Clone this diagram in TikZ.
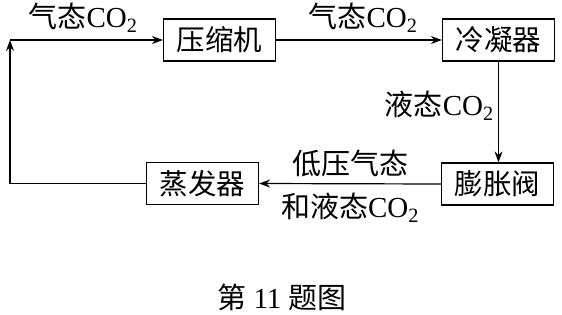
\documentclass[tikz,border=0pt]{standalone}
\usepackage{fontspec}
\setmainfont{Liberation Serif}
\newfontfamily\cjk{Noto Sans CJK SC}
\usetikzlibrary{arrows.meta}
\begin{document}
\begin{tikzpicture}[x=1pt,y=-1pt,
  box/.style={draw,line width=1.2pt,minimum width=112pt,minimum height=42pt,inner sep=0pt,font=\fontsize{28.5}{32}\selectfont\cjk},
  lbl/.style={inner sep=0pt,font=\fontsize{29}{32}\selectfont},
  flow/.style={line width=1.2pt,-{Stealth[length=11pt,width=8pt]}},
  line/.style={line width=1.2pt}]
\useasboundingbox (0,0) rectangle (562,314);
\node[box] (ysj) at (219.5,40) {压缩机};
\node[box] (lnq) at (498.5,40) {冷凝器};
\node[box] (pzf) at (497.5,184) {膨胀阀};
\node[box] (zfq) at (202.5,183.5) {蒸发器};
\coordinate (lb) at (10,183.5);
\coordinate (lt) at (10,40);
\draw[flow] (ysj.east) -- (lnq.west);
\draw[flow] (lnq.south) -- (lnq.south |- pzf.north);
\draw[flow] (pzf.west) -- (zfq.east);
\draw[line] (zfq.west) -- (lb);
\draw[flow] (lb) -- (lt);
\draw[flow] (lt) -- (ysj.west);
\node[lbl] (t1) at (83,18) {{\cjk 气态}CO\textsubscript{2}};
\node[lbl] (t2) at (363,18) {{\cjk 气态}CO\textsubscript{2}};
\node[lbl,anchor=east] (t3) at (494,106) {{\cjk 液态}CO\textsubscript{2}};
\node[lbl] (t4) at (350,163) {\cjk 低压气态};
\node[lbl] (t5) at (350,208) {{\cjk 和液态}CO\textsubscript{2}};
\node[lbl] (cap) at (282,297) {{\cjk 第} 11 {\cjk 题图}};
\end{tikzpicture}
\end{document}
